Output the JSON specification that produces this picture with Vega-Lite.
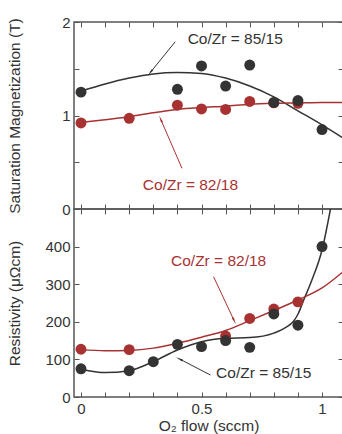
{
  "$schema": "https://vega.github.io/schema/vega-lite/v6.json",
  "padding": {"left": 6, "top": 14, "right": 1, "bottom": 0},
  "spacing": 0,
  "bounds": "flush",
  "config": {
    "font": "Liberation Sans",
    "view": {"stroke": "#555", "strokeWidth": 1.5},
    "axis": {"labelFont": "Liberation Sans", "labelFontSize": 15, "labelColor": "#333", "titleFont": "Liberation Sans", "titleFontSize": 15.5, "titleColor": "#333", "titleFontWeight": "normal", "tickColor": "#555", "tickSize": -5, "domain": false, "grid": false, "labelPadding": 9}
  },
  "datasets": {
    "msPts": [
      {"flow": 0, "val": 0.92, "series": "82/18"},
      {"flow": 0.2, "val": 0.97, "series": "82/18"},
      {"flow": 0.4, "val": 1.11, "series": "82/18"},
      {"flow": 0.5, "val": 1.07, "series": "82/18"},
      {"flow": 0.6, "val": 1.065, "series": "82/18"},
      {"flow": 0.7, "val": 1.15, "series": "82/18"},
      {"flow": 0.8, "val": 1.135, "series": "82/18"},
      {"flow": 0.9, "val": 1.13, "series": "82/18"},
      {"flow": 0, "val": 1.25, "series": "85/15"},
      {"flow": 0.4, "val": 1.28, "series": "85/15"},
      {"flow": 0.5, "val": 1.53, "series": "85/15"},
      {"flow": 0.6, "val": 1.315, "series": "85/15"},
      {"flow": 0.7, "val": 1.54, "series": "85/15"},
      {"flow": 0.8, "val": 1.14, "series": "85/15"},
      {"flow": 0.9, "val": 1.16, "series": "85/15"},
      {"flow": 1.0, "val": 0.85, "series": "85/15"}
    ],
    "msFit": [
      {"flow": 0, "val": 1.26, "series": "85/15"},
      {"flow": 0.1, "val": 1.337, "series": "85/15"},
      {"flow": 0.2, "val": 1.40, "series": "85/15"},
      {"flow": 0.3, "val": 1.445, "series": "85/15"},
      {"flow": 0.4, "val": 1.46, "series": "85/15"},
      {"flow": 0.5, "val": 1.45, "series": "85/15"},
      {"flow": 0.6, "val": 1.40, "series": "85/15"},
      {"flow": 0.7, "val": 1.315, "series": "85/15"},
      {"flow": 0.8, "val": 1.20, "series": "85/15"},
      {"flow": 0.9, "val": 1.05, "series": "85/15"},
      {"flow": 1.0, "val": 0.90, "series": "85/15"},
      {"flow": 1.087, "val": 0.76, "series": "85/15"},
      {"flow": 0, "val": 0.925, "series": "82/18"},
      {"flow": 0.1, "val": 0.955, "series": "82/18"},
      {"flow": 0.2, "val": 0.987, "series": "82/18"},
      {"flow": 0.3, "val": 1.03, "series": "82/18"},
      {"flow": 0.4, "val": 1.065, "series": "82/18"},
      {"flow": 0.5, "val": 1.085, "series": "82/18"},
      {"flow": 0.6, "val": 1.10, "series": "82/18"},
      {"flow": 0.7, "val": 1.12, "series": "82/18"},
      {"flow": 0.8, "val": 1.13, "series": "82/18"},
      {"flow": 0.9, "val": 1.135, "series": "82/18"},
      {"flow": 1.0, "val": 1.14, "series": "82/18"},
      {"flow": 1.087, "val": 1.14, "series": "82/18"}
    ],
    "msNotes": [
      {"flow": 0.64, "val": 1.815, "label": "Co/Zr = 85/15", "series": "85/15"},
      {"flow": 0.454, "val": 0.257, "label": "Co/Zr = 82/18", "series": "82/18"}
    ],
    "msArrows": [
      {"flow": 0.391, "val": 1.789, "flow2": 0.29, "val2": 1.468, "series": "85/15"},
      {"flow": 0.419, "val": 0.435, "flow2": 0.332, "val2": 0.952, "series": "82/18"}
    ],
    "rhoPts": [
      {"flow": 0, "val": 127, "series": "82/18"},
      {"flow": 0.2, "val": 126, "series": "82/18"},
      {"flow": 0.6, "val": 162, "series": "82/18"},
      {"flow": 0.7, "val": 209, "series": "82/18"},
      {"flow": 0.8, "val": 234, "series": "82/18"},
      {"flow": 0.9, "val": 253, "series": "82/18"},
      {"flow": 0, "val": 75, "series": "85/15"},
      {"flow": 0.2, "val": 70, "series": "85/15"},
      {"flow": 0.3, "val": 94, "series": "85/15"},
      {"flow": 0.4, "val": 140, "series": "85/15"},
      {"flow": 0.5, "val": 134, "series": "85/15"},
      {"flow": 0.6, "val": 150, "series": "85/15"},
      {"flow": 0.7, "val": 132, "series": "85/15"},
      {"flow": 0.8, "val": 221, "series": "85/15"},
      {"flow": 0.9, "val": 191, "series": "85/15"},
      {"flow": 1.0, "val": 400, "series": "85/15"}
    ],
    "rhoFit": [
      {"flow": 0, "val": 74, "series": "85/15"},
      {"flow": 0.1, "val": 65, "series": "85/15"},
      {"flow": 0.2, "val": 70, "series": "85/15"},
      {"flow": 0.3, "val": 94, "series": "85/15"},
      {"flow": 0.4, "val": 125, "series": "85/15"},
      {"flow": 0.5, "val": 147, "series": "85/15"},
      {"flow": 0.6, "val": 156, "series": "85/15"},
      {"flow": 0.7, "val": 158, "series": "85/15"},
      {"flow": 0.8, "val": 170, "series": "85/15"},
      {"flow": 0.85, "val": 185, "series": "85/15"},
      {"flow": 0.88, "val": 200, "series": "85/15"},
      {"flow": 0.9, "val": 220, "series": "85/15"},
      {"flow": 0.924, "val": 258, "series": "85/15"},
      {"flow": 0.958, "val": 311, "series": "85/15"},
      {"flow": 1.0, "val": 391, "series": "85/15"},
      {"flow": 1.035, "val": 500, "series": "85/15"},
      {"flow": 0, "val": 126, "series": "82/18"},
      {"flow": 0.1, "val": 123, "series": "82/18"},
      {"flow": 0.2, "val": 124, "series": "82/18"},
      {"flow": 0.3, "val": 130, "series": "82/18"},
      {"flow": 0.4, "val": 143, "series": "82/18"},
      {"flow": 0.5, "val": 159, "series": "82/18"},
      {"flow": 0.6, "val": 177, "series": "82/18"},
      {"flow": 0.7, "val": 203, "series": "82/18"},
      {"flow": 0.8, "val": 230, "series": "82/18"},
      {"flow": 0.9, "val": 258, "series": "82/18"},
      {"flow": 1.0, "val": 290, "series": "82/18"},
      {"flow": 1.087, "val": 333, "series": "82/18"}
    ],
    "rhoNotes": [
      {"flow": 0.571, "val": 362, "label": "Co/Zr = 82/18", "series": "82/18"},
      {"flow": 0.758, "val": 63, "label": "Co/Zr = 85/15", "series": "85/15"}
    ],
    "rhoArrows": [
      {"flow": 0.55, "val": 320, "flow2": 0.634, "val2": 205, "series": "82/18"},
      {"flow": 0.537, "val": 58.5, "flow2": 0.412, "val2": 100, "series": "85/15"}
    ]
  },
  "vconcat": [
    {
      "width": 269,
      "height": 187,
      "resolve": {"axis": {"x": "independent", "y": "independent"}},
      "layer": [
        {
          "data": {"name": "msFit"},
          "mark": {"type": "line", "interpolate": "monotone", "strokeWidth": 1.5},
          "encoding": {
            "x": {"field": "flow", "type": "quantitative", "scale": {"domain": [-0.029, 1.087], "nice": false, "zero": false}, "axis": {"orient": "top", "labels": false, "values": [0, 0.1, 0.2, 0.3, 0.4, 0.5, 0.6, 0.7, 0.8, 0.9, 1.0], "title": null}},
            "y": {"field": "val", "type": "quantitative", "scale": {"domain": [0, 2], "nice": false}, "axis": {"orient": "right", "labels": false, "values": [0, 0.5, 1, 1.5, 2], "title": null}},
            "color": {"field": "series", "type": "nominal", "scale": {"domain": ["85/15", "82/18"], "range": ["#333333", "#a83232"]}, "legend": null},
            "detail": {"field": "series"}
          }
        },
        {
          "data": {"name": "msPts"},
          "mark": {"type": "circle", "size": 120, "opacity": 1},
          "encoding": {
            "x": {"field": "flow", "type": "quantitative", "axis": {"orient": "bottom", "labels": false, "values": [0, 0.1, 0.2, 0.3, 0.4, 0.5, 0.6, 0.7, 0.8, 0.9, 1.0], "title": null}},
            "y": {"field": "val", "type": "quantitative", "axis": {"orient": "left", "values": [0, 0.5, 1, 1.5, 2], "labelExpr": "datum.value == 0 ? '0' : datum.value == 1 ? '1' : datum.value == 2 ? '2' : ''", "title": "Saturation Magnetization (T)", "minExtent": 30, "maxExtent": 30, "titlePadding": 22}},
            "color": {"field": "series", "type": "nominal", "scale": {"domain": ["85/15", "82/18"], "range": ["#000000", "#8b1515"]}, "legend": null}
          }
        },
        {
          "data": {"name": "msArrows"},
          "mark": {"type": "rule", "strokeWidth": 1},
          "encoding": {
            "x": {"field": "flow", "type": "quantitative", "axis": null},
            "y": {"field": "val", "type": "quantitative", "axis": null},
            "x2": {"field": "flow2"},
            "y2": {"field": "val2"},
            "color": {"field": "series", "type": "nominal", "legend": null}
          }
        },
        {
          "data": {"name": "msArrows"},
          "transform": [{"filter": "datum.series == '85/15'"}],
          "mark": {"type": "point", "shape": "wedge", "filled": true, "size": 70, "angle": 219, "opacity": 1},
          "encoding": {
            "x": {"field": "flow2", "type": "quantitative", "axis": null},
            "y": {"field": "val2", "type": "quantitative", "axis": null},
            "color": {"field": "series", "type": "nominal", "legend": null}
          }
        },
        {
          "data": {"name": "msArrows"},
          "transform": [{"filter": "datum.series == '82/18'"}],
          "mark": {"type": "point", "shape": "wedge", "filled": true, "size": 70, "angle": 336, "opacity": 1},
          "encoding": {
            "x": {"field": "flow2", "type": "quantitative", "axis": null},
            "y": {"field": "val2", "type": "quantitative", "axis": null},
            "color": {"field": "series", "type": "nominal", "legend": null}
          }
        },
        {
          "data": {"name": "msNotes"},
          "mark": {"type": "text", "fontSize": 15.5, "font": "Liberation Sans"},
          "encoding": {
            "x": {"field": "flow", "type": "quantitative", "axis": null},
            "y": {"field": "val", "type": "quantitative", "axis": null},
            "text": {"field": "label"},
            "color": {"field": "series", "type": "nominal", "legend": null}
          }
        }
      ]
    },
    {
      "width": 269,
      "height": 188,
      "resolve": {"axis": {"x": "independent", "y": "independent"}},
      "layer": [
        {
          "data": {"name": "rhoFit"},
          "mark": {"type": "line", "interpolate": "monotone", "strokeWidth": 1.5, "clip": true},
          "encoding": {
            "x": {"field": "flow", "type": "quantitative", "scale": {"domain": [-0.029, 1.087], "nice": false, "zero": false}, "axis": {"orient": "top", "labels": false, "values": [0, 0.1, 0.2, 0.3, 0.4, 0.5, 0.6, 0.7, 0.8, 0.9, 1.0], "title": null}},
            "y": {"field": "val", "type": "quantitative", "scale": {"domain": [0, 500], "nice": false}, "axis": {"orient": "right", "labels": false, "values": [0, 100, 200, 300, 400], "title": null}},
            "color": {"field": "series", "type": "nominal", "scale": {"domain": ["85/15", "82/18"], "range": ["#333333", "#a83232"]}, "legend": null},
            "detail": {"field": "series"}
          }
        },
        {
          "data": {"name": "rhoPts"},
          "mark": {"type": "circle", "size": 120, "opacity": 1},
          "encoding": {
            "x": {"field": "flow", "type": "quantitative", "axis": {"orient": "bottom", "values": [0, 0.1, 0.2, 0.3, 0.4, 0.5, 0.6, 0.7, 0.8, 0.9, 1.0], "labelExpr": "datum.value == 0 ? '0' : datum.value == 0.5 ? '0.5' : datum.value == 1 ? '1' : ''", "title": "O₂ flow (sccm)", "titlePadding": 2}},
            "y": {"field": "val", "type": "quantitative", "axis": {"orient": "left", "values": [0, 100, 200, 300, 400], "title": "Resistivity (μΩcm)", "minExtent": 30, "maxExtent": 30, "titlePadding": 22}},
            "color": {"field": "series", "type": "nominal", "scale": {"domain": ["85/15", "82/18"], "range": ["#000000", "#8b1515"]}, "legend": null}
          }
        },
        {
          "data": {"name": "rhoArrows"},
          "mark": {"type": "rule", "strokeWidth": 1},
          "encoding": {
            "x": {"field": "flow", "type": "quantitative", "axis": null},
            "y": {"field": "val", "type": "quantitative", "axis": null},
            "x2": {"field": "flow2"},
            "y2": {"field": "val2"},
            "color": {"field": "series", "type": "nominal", "legend": null}
          }
        },
        {
          "data": {"name": "rhoArrows"},
          "transform": [{"filter": "datum.series == '82/18'"}],
          "mark": {"type": "point", "shape": "wedge", "filled": true, "size": 70, "angle": 155, "opacity": 1},
          "encoding": {
            "x": {"field": "flow2", "type": "quantitative", "axis": null},
            "y": {"field": "val2", "type": "quantitative", "axis": null},
            "color": {"field": "series", "type": "nominal", "legend": null}
          }
        },
        {
          "data": {"name": "rhoArrows"},
          "transform": [{"filter": "datum.series == '85/15'"}],
          "mark": {"type": "point", "shape": "wedge", "filled": true, "size": 70, "angle": 298, "opacity": 1},
          "encoding": {
            "x": {"field": "flow2", "type": "quantitative", "axis": null},
            "y": {"field": "val2", "type": "quantitative", "axis": null},
            "color": {"field": "series", "type": "nominal", "legend": null}
          }
        },
        {
          "data": {"name": "rhoNotes"},
          "mark": {"type": "text", "fontSize": 15.5, "font": "Liberation Sans"},
          "encoding": {
            "x": {"field": "flow", "type": "quantitative", "axis": null},
            "y": {"field": "val", "type": "quantitative", "axis": null},
            "text": {"field": "label"},
            "color": {"field": "series", "type": "nominal", "legend": null}
          }
        }
      ]
    }
  ]
}
